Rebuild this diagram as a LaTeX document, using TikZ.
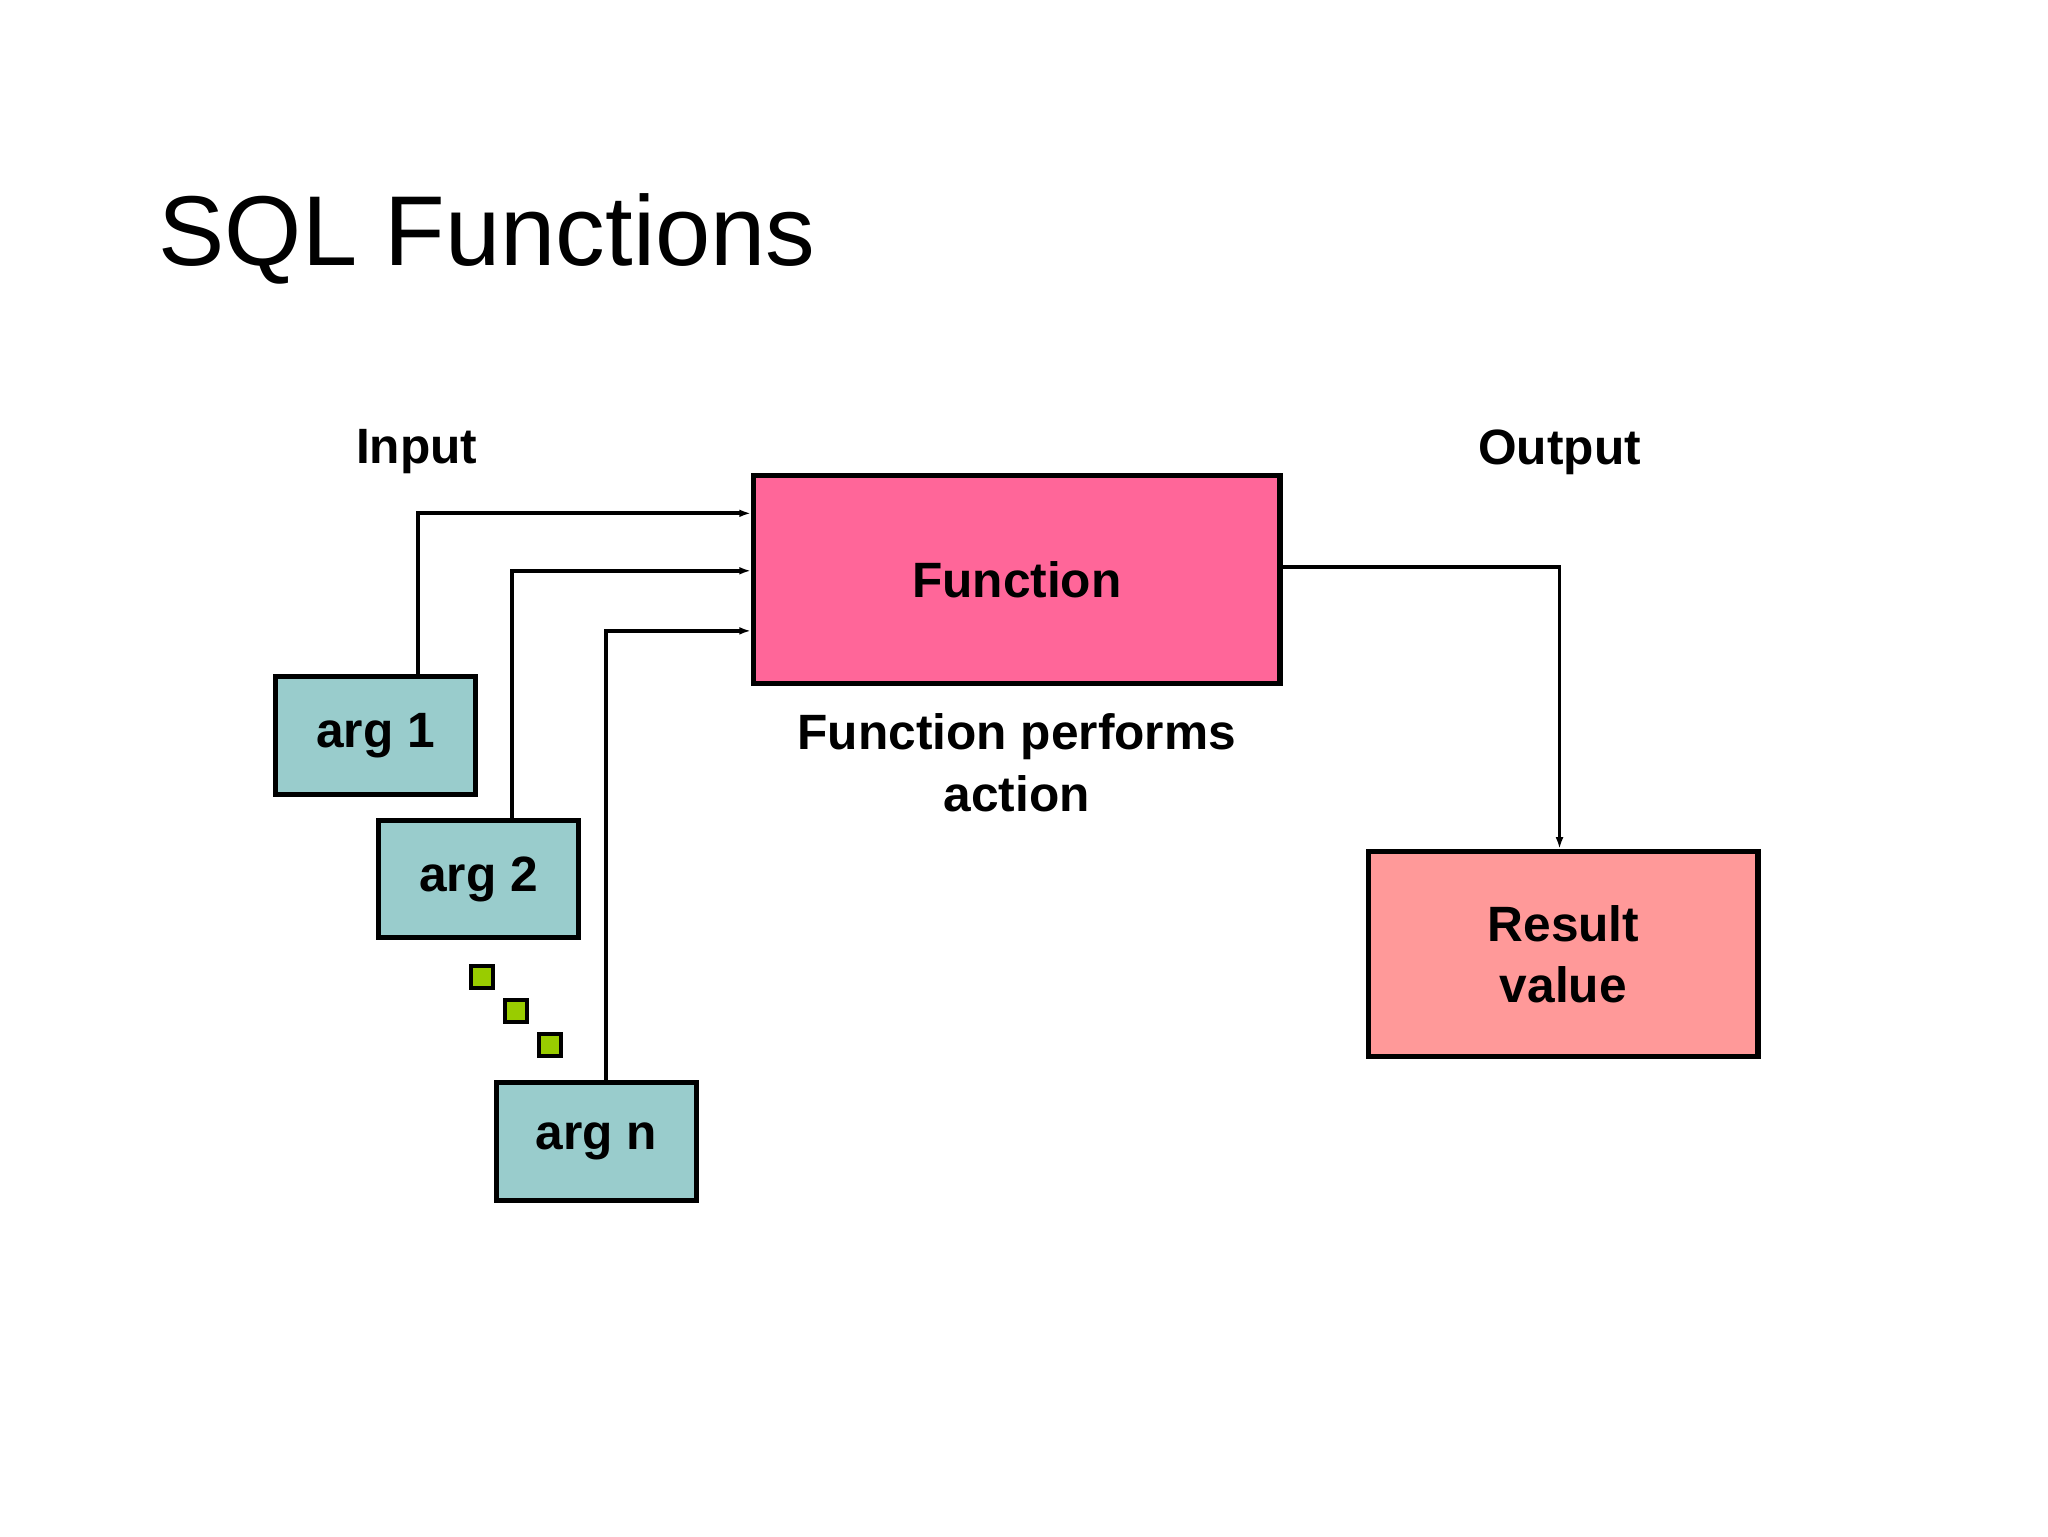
\documentclass[tikz,border=0pt]{standalone}
\usepackage{fontspec}
\setmainfont{Liberation Sans}
\usetikzlibrary{arrows.meta,positioning}
\begin{document}
\begin{tikzpicture}[x=1pt, y=-1pt, >={Latex[length=9pt,width=6pt]},
    box/.style={draw, line width=4pt, rectangle, inner sep=0pt},
    argbox/.style={box, fill=argfill, minimum width=153pt, minimum height=90pt},
    dot/.style={draw, line width=3pt, fill=dotfill, minimum size=17pt, inner sep=0pt},
    line/.style={line width=3pt},
    lbl/.style={font=\fontsize{38}{47}\selectfont\bfseries, align=center}]
    \definecolor{argfill}{HTML}{99CCCC}
    \definecolor{funcfill}{HTML}{FF6699}
    \definecolor{resfill}{HTML}{FF9999}
    \definecolor{dotfill}{HTML}{99CC00}
    \useasboundingbox (0,0) rectangle (1568,1176);

    % Title
    \node[anchor=base west, font=\fontsize{76}{90}\selectfont] (title) at (118,203) {SQL Functions};

    % Boxes
    \node[box, fill=funcfill, minimum width=403pt, minimum height=159pt, lbl] (func) at (778.5,443.5) {Function};
    \node[argbox, lbl] (arg1) at (287.5,563) {arg 1};
    \node[argbox, lbl] (arg2) at (366.5,673) {arg 2};
    \node[argbox, lbl] (argn) at (456.5,874) {arg n};
    \node[box, fill=resfill, minimum width=298pt, minimum height=157pt, lbl] (result) at (1197,730.5) {Result\\value};
    \node[dot] (d1) at (369,748) {};
    \node[dot] (d2) at (395,774) {};
    \node[dot] (d3) at (421,800) {};

    % Labels
    \node[lbl] (inlabel) at (319,346) {Input};
    \node[lbl] (outlabel) at (1194,346) {Output};
    \node[lbl, below=18pt of func] (action) {Function performs\\action};

    % Connectors
    \draw[line,->] (arg1.north -| 320,0) |- (func.west |- 0,393);
    \draw[line,->] (arg2.north -| 392,0) |- (func.west |- 0,437);
    \draw[line,->] (argn.north -| 464,0) |- (func.west |- 0,483);
    \draw[line,->] (func.east |- 0,434) -| (result.north -| 1194,0);
\end{tikzpicture}
\end{document}
